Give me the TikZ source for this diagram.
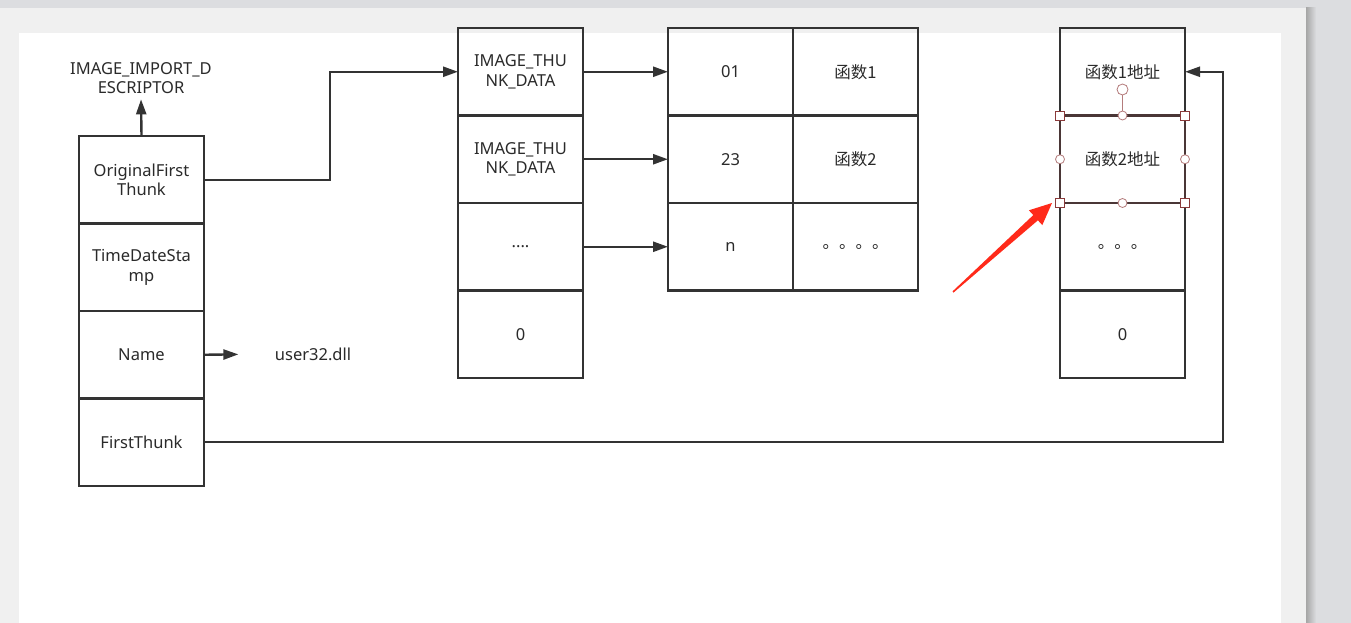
\documentclass[tikz,border=0pt]{standalone}
\usepackage{fontspec}
\setmainfont{Noto Sans}
\newfontfamily\cjk{Noto Sans CJK SC}
\usetikzlibrary{positioning,arrows.meta}

\definecolor{linegray}{HTML}{333333}
\definecolor{textgray}{HTML}{2A2A2A}
\definecolor{pagegray}{HTML}{F0F0F0}
\definecolor{deskgray}{HTML}{DCDDE0}
\definecolor{gripred}{HTML}{8A3A3A}
\definecolor{knobred}{HTML}{B47C7C}
\definecolor{selbrown}{HTML}{4A3636}
\definecolor{markred}{HTML}{FF2A1A}

\tikzset{
  cell/.style={draw=linegray, line width=2.4pt, minimum width=125pt, minimum height=87.5pt,
    outer sep=0pt, inner sep=2pt, align=center, text=textgray,
    font=\fontsize{16.5}{19.5}\selectfont},
  plain/.style={align=center, text=textgray, font=\fontsize{16.5}{19.5}\selectfont},
  link/.style={draw=linegray, line width=2.4pt, -{Triangle[length=15pt,width=10pt]}},
  grip/.style={draw=gripred, fill=white, line width=0.8pt, minimum size=9pt,
    inner sep=0pt, outer sep=0pt},
  knob/.style={circle, draw=knobred, fill=white, line width=0.8pt, minimum size=9pt,
    inner sep=0pt, outer sep=0pt},
}

\begin{document}
\begin{tikzpicture}[x=1pt, y=-1pt]
    \useasboundingbox (0,0) rectangle (1351,623);
    % Desk and page
    \fill[deskgray] (0,0) rectangle (1351,623);
    \fill[pagegray] (0,8) rectangle (1306,623);
    \shade[left color=gray!70, right color=deskgray] (1306,8) rectangle (1316,623);
    \fill[white] (19,33) rectangle (1281,623);

    % Import descriptor
    \node[plain] (imp) at (141,78) {IMAGE\_IMPORT\_D\\ESCRIPTOR};
    \node[cell] (ofirst) at (141.5,179.75) {OriginalFirst\\Thunk};
    \node[cell, below=0pt of ofirst] (stamp) {TimeDateSta\\mp};
    \node[cell, below=0pt of stamp] (name) {Name};
    \node[cell, below=0pt of name] (fthunk) {FirstThunk};
    \node[plain] (dll) at (313,354) {user32.dll};

    % Thunk data array
    \node[cell] (thk1) at (520.5,71.75) {IMAGE\_THU\\NK\_DATA};
    \node[cell, below=0pt of thk1] (thk2) {IMAGE\_THU\\NK\_DATA};
    \node[cell, below=0pt of thk2] (thk3) {....};
    \node[cell, below=0pt of thk3] (thk4) {0};

    % Hint / name table
    \node[cell] (hint1) at (730.5,71.75) {01};
    \node[cell, right=0pt of hint1] (func1) {\cjk 函数1};
    \node[cell, below=0pt of hint1] (hint2) {23};
    \node[cell, right=0pt of hint2] (func2) {\cjk 函数2};
    \node[cell, below=0pt of hint2] (hint3) {n};
    \node[cell, right=0pt of hint3] (func3) {\cjk 。。。。};

    % Address table
    \node[cell] (addr1) at (1122.5,71.75) {\cjk 函数1地址};
    \node[cell, below=0pt of addr1] (addr2) {\cjk 函数2地址};
    \node[cell, below=0pt of addr2] (addr3) {\cjk 。。。};
    \node[cell, below=0pt of addr3] (addr4) {0};

    % Links
    \draw[link, shorten >=2pt] (ofirst.north) -- (imp.south);
    \draw[link] (ofirst.east) -- ++(126,0) |- (thk1.west);
    \draw[link, shorten >=33pt] (name.east) -- (dll.west);
    \draw[link] (thk1.east) -- (hint1.west);
    \draw[link] (thk2.east) -- (hint2.west);
    \draw[link] (thk3.east) -- (hint3.west);
    \draw[link] (fthunk.east) -- ++(1019,0) |- (addr1.east);

    % Selection on the second address
    \draw[selbrown, line width=2.6pt] (addr2.north west) rectangle (addr2.south east);
    \draw[knobred, line width=1.2pt] (addr2.north) -- ++(0,-20);
    \node[knob, minimum size=11pt] (turn) at ([yshift=26pt]addr2.north) {};
    \foreach \a in {north west, north east, south west, south east}
        \node[grip] at (addr2.\a) {};
    \foreach \a in {north, south, west, east}
        \node[knob] at (addr2.\a) {};

    % Red pointer
    \fill[markred] (952.5,291.4) -- (1033.3,215.1) -- (1028.9,210.3) -- (1052,203)
        -- (1042.3,225.1) -- (1037.9,220.3) -- (953.5,292.6) -- cycle;
\end{tikzpicture}
\end{document}
